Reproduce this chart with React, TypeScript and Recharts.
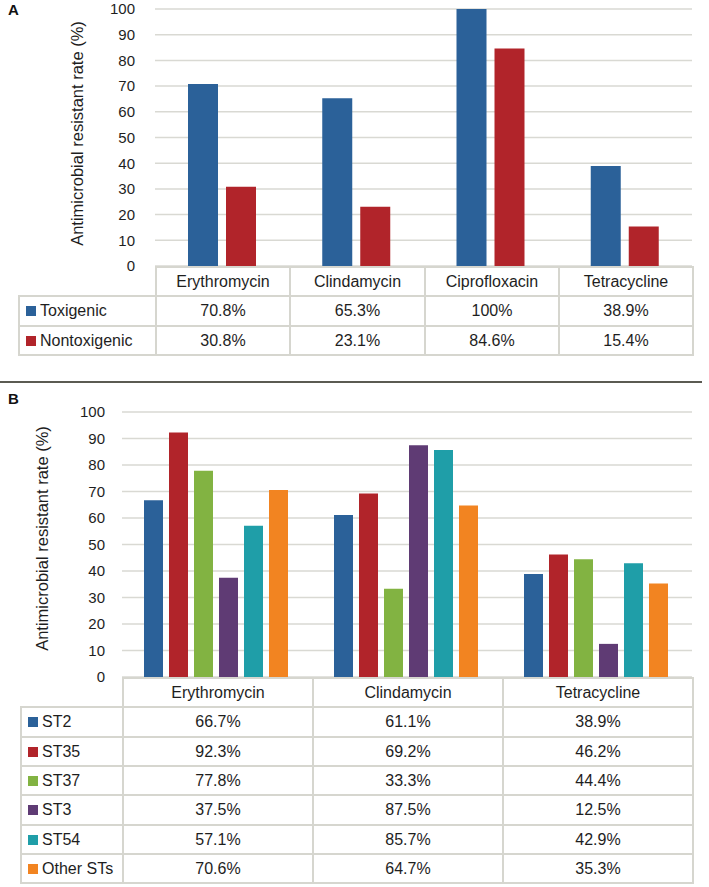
import React from 'react';
import { BarChart, Bar, XAxis, YAxis, CartesianGrid, Label } from 'recharts';

// ---------- Data ----------
const drugsA = ['Erythromycin', 'Clindamycin', 'Ciprofloxacin', 'Tetracycline'];
const seriesNamesA = ['Toxigenic', 'Nontoxigenic'];
const toxigenic = [70.8, 65.3, 100, 38.9];
const nontoxigenic = [30.8, 23.1, 84.6, 15.4];
const colorsA = ['#2b6199', '#b1242a'];

const drugsB = ['Erythromycin', 'Clindamycin', 'Tetracycline'];
const seriesNamesB = ['ST2', 'ST35', 'ST37', 'ST3', 'ST54', 'Other STs'];
const st2 = [66.7, 61.1, 38.9];
const st35 = [92.3, 69.2, 46.2];
const st37 = [77.8, 33.3, 44.4];
const st3 = [37.5, 87.5, 12.5];
const st54 = [57.1, 85.7, 42.9];
const otherSTs = [70.6, 64.7, 35.3];
const colorsB = ['#2b6199', '#b1242a', '#82b342', '#5f3b74', '#1f9ea8', '#f28421'];

const yTicks = [0, 10, 20, 30, 40, 50, 60, 70, 80, 90, 100];
const yLabel = 'Antimicrobial resistant rate (%)';

const valuesA = [toxigenic, nontoxigenic];
const valuesB = [st2, st35, st37, st3, st54, otherSTs];

const dataA = drugsA.map((name, i) => {
  const row: any = { name };
  valuesA.forEach((v, s) => (row['s' + s] = v[i]));
  return row;
});
const dataB = drugsB.map((name, i) => {
  const row: any = { name };
  valuesB.forEach((v, s) => (row['s' + s] = v[i]));
  return row;
});

const FONT = '"Liberation Sans", Arial, Helvetica, sans-serif';
const TEXT = '#1e1e1e';
const BORDER = '#d6d6cf';
const BW = 2;

type TableProps = {
  top: number;
  labelLeft: number;
  plotLeft: number;
  plotRight: number;
  rowH: number;
  categories: string[];
  names: string[];
  colors: string[];
  values: number[][];
};

function Cell({ x, y, w, h, children, align = 'center' }: any) {
  return (
    <div
      style={{
        position: 'absolute',
        left: x,
        top: y,
        width: w + BW,
        height: h + BW,
        border: `${BW}px solid ${BORDER}`,
        boxSizing: 'border-box',
        display: 'flex',
        alignItems: 'center',
        justifyContent: align === 'center' ? 'center' : 'flex-start',
        fontSize: 16,
        color: TEXT,
        fontFamily: FONT,
        whiteSpace: 'nowrap',
        background: 'transparent',
      }}
    >
      {children}
    </div>
  );
}

function DataTable({ top, labelLeft, plotLeft, plotRight, rowH, categories, names, colors, values }: TableProps) {
  const colW = (plotRight - plotLeft) / categories.length;
  const cells: any[] = [];
  const ry = (r: number) => Math.round(top + r * rowH);
  categories.forEach((c, i) => {
    const x0 = Math.round(plotLeft + i * colW);
    const x1 = Math.round(plotLeft + (i + 1) * colW);
    cells.push(
      <Cell key={'h' + i} x={x0} y={ry(0)} w={x1 - x0} h={ry(1) - ry(0)}>
        {c}
      </Cell>
    );
  });
  names.forEach((n, r) => {
    const y0 = ry(r + 1);
    const y1 = ry(r + 2);
    cells.push(
      <Cell key={'l' + r} x={labelLeft} y={y0} w={plotLeft - labelLeft} h={y1 - y0} align="left">
        <span
          style={{
            display: 'inline-block',
            width: 10,
            height: 10,
            background: colors[r],
            marginLeft: 6,
            marginRight: 4,
          }}
        />
        {n}
      </Cell>
    );
    categories.forEach((c, i) => {
      const x0 = Math.round(plotLeft + i * colW);
      const x1 = Math.round(plotLeft + (i + 1) * colW);
      cells.push(
        <Cell key={'c' + r + '_' + i} x={x0} y={y0} w={x1 - x0} h={y1 - y0}>
          {`${values[r][i]}%`}
        </Cell>
      );
    });
  });
  return <>{cells}</>;
}

export default function App() {
  const tickStyle = { fill: TEXT, fontSize: 15, fontFamily: FONT };
  return (
    <div
      style={{
        position: 'absolute',
        left: 0,
        top: 0,
        width: 709,
        height: 887,
        background: '#ffffff',
        fontFamily: FONT,
        overflow: 'hidden',
      }}
    >
      {/* Panel A */}
      <div style={{ position: 'absolute', left: 8, top: 1, fontWeight: 'bold', fontSize: 15, color: '#111' }}>A</div>
      <div style={{ position: 'absolute', left: 0, top: 0 }}>
        <BarChart
          width={709}
          height={280}
          data={dataA}
          margin={{ top: 9, right: 17, bottom: 14, left: 0 }}
          barCategoryGap={33}
          barGap={8}
        >
          <CartesianGrid vertical={false} stroke="#d9d9d3" strokeWidth={1.5} />
          <XAxis dataKey="name" hide />
          <YAxis
            width={155}
            domain={[0, 100]}
            ticks={yTicks}
            interval={0}
            axisLine={false}
            tickLine={false}
            tickSize={0}
            tickMargin={20}
            tick={tickStyle}
          >
            <Label
              value={yLabel}
              angle={-90}
              position="center"
              dx={0}
              dy={-4}
              style={{ fontSize: 16.5, fill: TEXT, fontFamily: FONT }}
            />
          </YAxis>
          {seriesNamesA.map((n, s) => (
            <Bar key={n} dataKey={'s' + s} name={n} fill={colorsA[s]} isAnimationActive={false} />
          ))}
        </BarChart>
      </div>
      <DataTable
        top={266}
        labelLeft={18}
        plotLeft={155}
        plotRight={692}
        rowH={29.3}
        categories={drugsA}
        names={seriesNamesA}
        colors={colorsA}
        values={valuesA}
      />

      {/* Divider */}
      <div style={{ position: 'absolute', left: 0, top: 381, width: 702, height: 2, background: '#5b5b52' }} />

      {/* Panel B */}
      <div style={{ position: 'absolute', left: 8, top: 390, fontWeight: 'bold', fontSize: 15, color: '#111' }}>B</div>
      <div style={{ position: 'absolute', left: 0, top: 380 }}>
        <BarChart
          width={709}
          height={315}
          data={dataB}
          margin={{ top: 32, right: 17, bottom: 18, left: 0 }}
          barCategoryGap={22}
          barGap={6}
        >
          <CartesianGrid vertical={false} stroke="#d9d9d3" strokeWidth={1.5} />
          <XAxis dataKey="name" hide />
          <YAxis
            width={122}
            domain={[0, 100]}
            ticks={yTicks}
            interval={0}
            axisLine={false}
            tickLine={false}
            tickSize={0}
            tickMargin={17}
            tick={tickStyle}
          >
            <Label
              value={yLabel}
              angle={-90}
              position="center"
              dx={-19}
              dy={-6}
              style={{ fontSize: 16.5, fill: TEXT, fontFamily: FONT }}
            />
          </YAxis>
          {seriesNamesB.map((n, s) => (
            <Bar key={n} dataKey={'s' + s} name={n} fill={colorsB[s]} isAnimationActive={false} />
          ))}
        </BarChart>
      </div>
      <DataTable
        top={677}
        labelLeft={20}
        plotLeft={122}
        plotRight={692}
        rowH={29.3}
        categories={drugsB}
        names={seriesNamesB}
        colors={colorsB}
        values={valuesB}
      />
    </div>
  );
}
